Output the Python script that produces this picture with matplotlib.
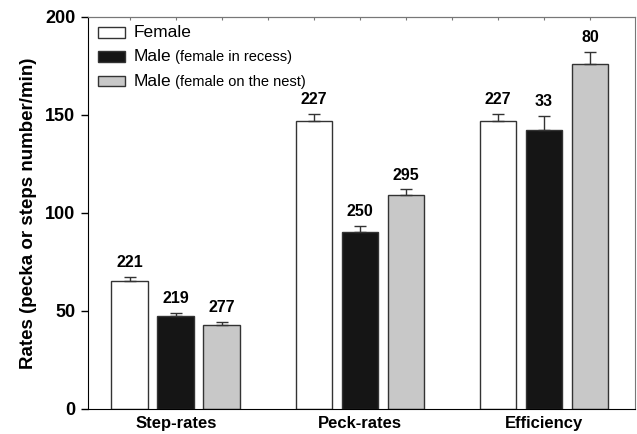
import numpy as np
import matplotlib
matplotlib.use("Agg")
import matplotlib.pyplot as plt
from matplotlib.patches import Rectangle

plt.rcParams['font.family'] = ['Liberation Sans', 'DejaVu Sans']

categories = ['Step-rates', 'Peck-rates', 'Efficiency']
series_names = ['Female', 'Male', 'Male']
series_notes = ['', '(female in recess)', '(female on the nest)']
female = [65.3, 147.0, 147.0]
female_err = [2.0, 3.5, 3.5]
male_recess = [47.4, 90.3, 142.3]
male_recess_err = [1.6, 3.1, 7.2]
male_nest = [42.9, 109.0, 176.0]
male_nest_err = [1.5, 3.0, 6.0]
female_n = [221, 227, 227]
male_recess_n = [219, 250, 33]
male_nest_n = [277, 295, 80]

colors = ['white', '#151515', '#c8c8c8']

fig = plt.figure(figsize=(6.37, 4.34), dpi=100)
ax = fig.add_axes([0.138, 0.058, 0.859, 0.903])

x = np.arange(len(categories))
width = 0.2
offsets = [-0.25, 0.0, 0.25]
values = [female, male_recess, male_nest]
errs = [female_err, male_recess_err, male_nest_err]
counts = [female_n, male_recess_n, male_nest_n]

for vals, err, n, col, off in zip(values, errs, counts, colors, offsets):
    ax.bar(x + off, vals, width, color=col, edgecolor='#333333', linewidth=1.0, zorder=2)
    ax.errorbar(x + off, vals, yerr=[np.zeros(len(vals)), err], fmt='none',
                ecolor='#333333', elinewidth=1.0, capsize=4, capthick=1.0, zorder=3)
    for xi, v, e, c in zip(x + off, vals, err, n):
        ax.text(xi, v + e + 3.5, str(c), ha='center', va='bottom',
                fontsize=11.5, fontweight='bold')

ax.set_xlim(-0.478, 2.495)
ax.set_ylim(0, 200)
ax.set_yticks([0, 50, 100, 150, 200])
ax.set_yticklabels(['0', '50', '100', '150', '200'], fontsize=13, fontweight='bold')
ax.tick_params(axis='y', direction='out', length=5, width=1, pad=4)
ax.set_xticks(x)
ax.set_xticklabels(categories, fontsize=12, fontweight='bold')
ax.tick_params(axis='x', length=0, pad=5)
ax.set_ylabel('Rates (pecka or steps number/min)', fontsize=13.5, fontweight='bold', labelpad=6)

for s in ['top', 'right']:
    ax.spines[s].set_color('#777777')
for s in ['left', 'bottom']:
    ax.spines[s].set_color('black')

sec = ax.secondary_xaxis('top')
sec.set_xticks(np.arange(-0.25, 2.3, 0.25))
sec.set_xticklabels([])
sec.tick_params(direction='in', length=2, color='#777777')
sec.spines['top'].set_color('#777777')

# legend drawn by hand to get the two text sizes
for i, (name, note, col) in enumerate(zip(series_names, series_notes, colors)):
    yc = 0.96 - i * 0.062
    ax.add_patch(Rectangle((0.018, yc - 0.013), 0.05, 0.027, transform=ax.transAxes,
                           facecolor=col, edgecolor='#333333', linewidth=1.0, zorder=4))
    t = ax.text(0.084, yc, name, transform=ax.transAxes, fontsize=12.5, va='center')
    if note:
        ax.annotate(' ' + note, xy=(1, 0), xycoords=t, xytext=(0, 0),
                    textcoords='offset points', fontsize=10.5, va='bottom')

fig.savefig('out.png', dpi=100)
